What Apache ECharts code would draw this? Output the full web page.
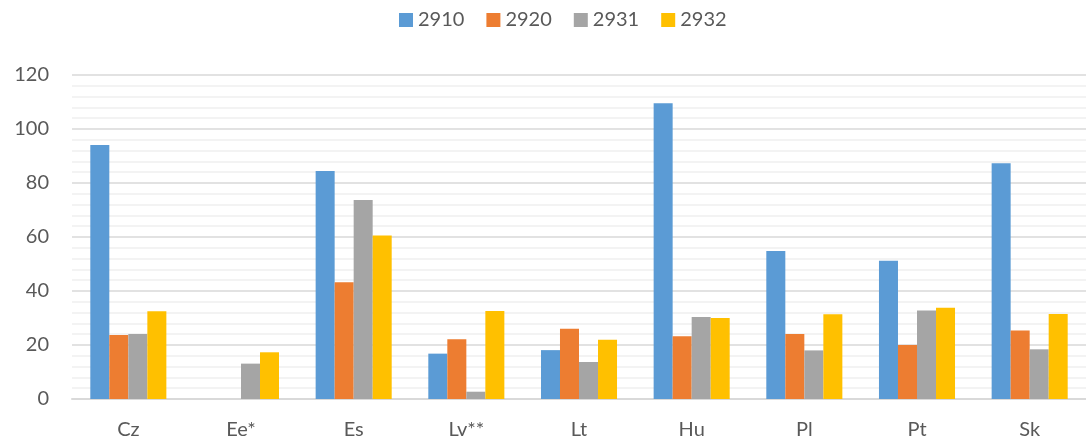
<!DOCTYPE html>
<html>
<head>
<meta charset="utf-8">
<script src="https://cdn.jsdelivr.net/npm/echarts@6/dist/echarts.min.js"></script>
<style>
  html, body { margin: 0; padding: 0; background: #fff; }
  #chart { width: 1086px; height: 440px; }
</style>
</head>
<body>
<div id="chart"></div>
<script>
// Category labels along the x axis
const categories = ['Cz', 'Ee*', 'Es', 'Lv**', 'Lt', 'Hu', 'Pl', 'Pt', 'Sk'];

// Series names shown in the legend
const seriesNames = ['2910', '2920', '2931', '2932'];

// Values per series (null = no data)
const values2910 = [94.1, null, 84.4, 16.8, 18.1, 109.5, 54.8, 51.2, 87.3];
const values2920 = [23.7, null, 43.2, 22.1, 26.0, 23.2, 24.1, 20.0, 25.4];
const values2931 = [24.1, 13.1, 73.7, 2.7, 13.7, 30.4, 18.0, 32.8, 18.4];
const values2932 = [32.5, 17.3, 60.6, 32.6, 21.9, 30.0, 31.4, 33.8, 31.5];

const seriesValues = [values2910, values2920, values2931, values2932];
const seriesColors = ['#5B9BD5', '#ED7D31', '#A5A5A5', '#FFC000'];

const textColor = '#595959';
const fontFamily = 'Lato, "Open Sans", sans-serif';

const chart = echarts.init(document.getElementById('chart'), null, { renderer: 'canvas' });

chart.setOption({
  animation: false,
  backgroundColor: '#ffffff',
  textStyle: { fontFamily: fontFamily, color: textColor },
  legend: {
    top: 10,
    left: 399,
    padding: 0,
    itemWidth: 14,
    itemHeight: 14,
    itemGap: 22,
    icon: 'rect',
    textStyle: { fontSize: 20, color: textColor, fontFamily: fontFamily },
    data: seriesNames
  },
  grid: {
    left: 72,
    right: 0,
    top: 75,
    bottom: 41,
    containLabel: false
  },
  xAxis: {
    type: 'category',
    data: categories,
    axisLine: { show: true, lineStyle: { color: '#D9D9D9', width: 2 } },
    axisTick: { show: false },
    axisLabel: { color: textColor, fontSize: 20, margin: 21, fontFamily: fontFamily },
    splitLine: { show: false }
  },
  yAxis: {
    type: 'value',
    min: 0,
    max: 120,
    interval: 20,
    axisLine: { show: false },
    axisTick: { show: false },
    axisLabel: { color: textColor, fontSize: 20, margin: 23, fontFamily: fontFamily },
    splitLine: { show: true, lineStyle: { color: '#D9D9D9', width: 1.5 } },
    minorTick: { show: false, splitNumber: 5 },
    minorSplitLine: { show: true, lineStyle: { color: '#F0F0F0', width: 1.5 } }
  },
  series: seriesNames.map((name, i) => ({
    name: name,
    type: 'bar',
    data: seriesValues[i],
    barGap: '0%',
    barCategoryGap: '32.5%',
    itemStyle: { color: seriesColors[i] }
  }))
});
</script>
</body>
</html>
